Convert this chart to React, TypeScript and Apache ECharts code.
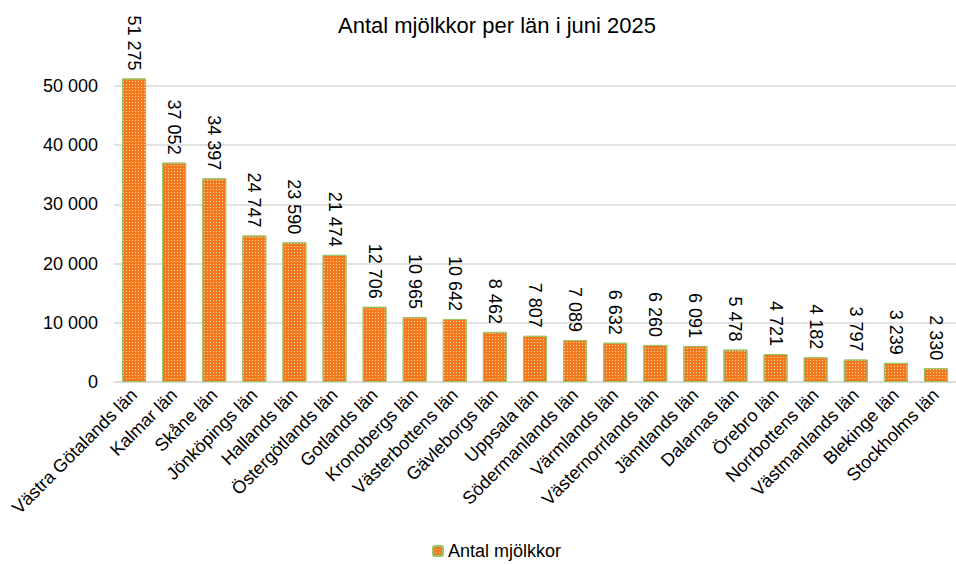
import React, { useEffect, useRef } from "react";
import * as echarts from "echarts";

const categories = [
  "Västra Götalands län", "Kalmar län", "Skåne län", "Jönköpings län", "Hallands län",
  "Östergötlands län", "Gotlands län", "Kronobergs län", "Västerbottens län", "Gävleborgs län",
  "Uppsala län", "Södermanlands län", "Värmlands län", "Västernorrlands län", "Jämtlands län",
  "Dalarnas län", "Örebro län", "Norrbottens län", "Västmanlands län", "Blekinge län", "Stockholms län",
];
const values = [
  51275, 37052, 34397, 24747, 23590, 21474, 12706, 10965, 10642, 8462,
  7807, 7089, 6632, 6260, 6091, 5478, 4721, 4182, 3797, 3239, 2330,
];
const seriesName = "Antal mjölkkor";
const title = "Antal mjölkkor per län i juni 2025";

const fmt = (v: number) => String(Math.round(v)).replace(/\B(?=(\d{3})+(?!\d))/g, " ");

export default function App() {
  const ref = useRef<HTMLDivElement>(null);
  useEffect(() => {
    if (!ref.current) return;
    const chart = echarts.init(ref.current, undefined, { renderer: "svg" });
    const font = "'Liberation Sans', Arial, sans-serif";
    chart.setOption({
      animation: false,
      aria: { enabled: true, decal: { show: true } },
      textStyle: { fontFamily: font },
      title: {
        text: title,
        left: 333,
        top: 9,
        textStyle: { fontFamily: font, fontSize: 22, fontWeight: "normal", color: "#000" },
      },
      legend: {
        bottom: 0,
        left: 427,
        itemWidth: 10,
        itemHeight: 10,
        itemGap: 5,
        textStyle: { fontFamily: font, fontSize: 18, color: "#000" },
        data: [seriesName],
      },
      grid: { left: 114, right: -12, top: 86, bottom: 183, containLabel: false },
      xAxis: {
        type: "category",
        data: categories,
        axisLine: { lineStyle: { color: "#D9D9D9", width: 1.5 } },
        axisTick: { show: false },
        axisLabel: {
          interval: 0,
          rotate: 45,
          margin: 10,
          fontFamily: font,
          fontSize: 18,
          color: "#000",
        },
      },
      yAxis: {
        type: "value",
        min: 0,
        max: 50000,
        interval: 10000,
        axisLine: { show: false },
        axisTick: { show: false },
        splitLine: { lineStyle: { color: "#D9D9D9", width: 1.5 } },
        axisLabel: {
          margin: 16,
          fontFamily: font,
          fontSize: 18,
          color: "#000",
          formatter: (v: number) => fmt(v),
        },
      },
      series: [
        {
          name: seriesName,
          type: "bar",
          data: values,
          barWidth: 24,
          clip: false,
          itemStyle: {
            color: "#F27A1C",
            borderColor: "#9BC46A",
            borderWidth: 1,
            decal: {
              symbol: "rect",
              symbolSize: 1,
              color: "rgba(255,255,255,0.65)",
              dashArrayX: [1, 2],
              dashArrayY: [1, 2],
              rotation: 0,
            },
          },
          label: {
            show: true,
            position: "top",
            rotate: -90,
            align: "right",
            verticalAlign: "middle",
            distance: 8,
            fontFamily: font,
            fontSize: 18,
            color: "#000",
            formatter: (p: any) => fmt(p.value),
          },
        },
      ],
    });
    return () => chart.dispose();
  }, []);
  return <div ref={ref} style={{ width: 956, height: 565, position: "absolute", left: 0, top: 0 }} />;
}
